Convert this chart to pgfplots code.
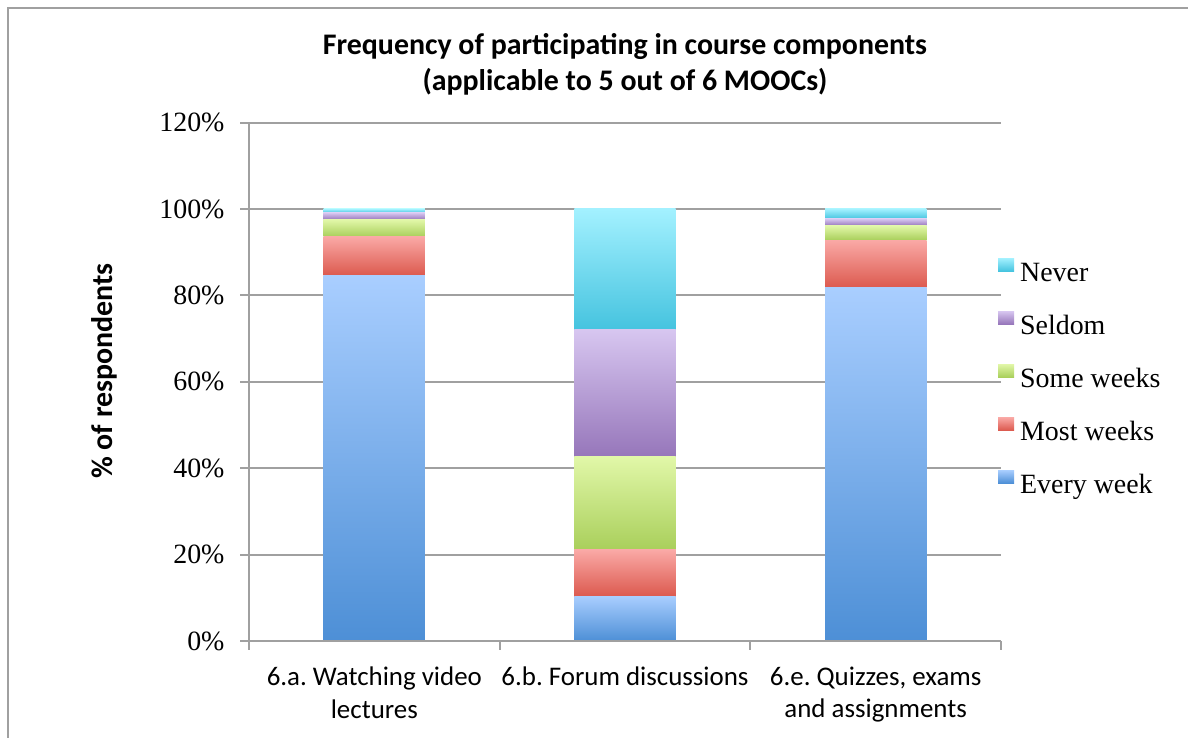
\documentclass[border=0pt]{standalone}
\usepackage{pgfplots}
\pgfplotsset{compat=1.18}
\usepackage{fontspec}
\setmainfont{Liberation Serif}
\newfontfamily\calib{Carlito}
\definecolor{axgray}{HTML}{A0A0A0}
\definecolor{bluet}{HTML}{A9CEFF}\definecolor{blueb}{HTML}{4D8FD6}
\definecolor{redt}{HTML}{FAA9A6}\definecolor{redb}{HTML}{DC5A4F}
\definecolor{greent}{HTML}{E1F7A8}\definecolor{greenb}{HTML}{A9CF5B}
\definecolor{purpt}{HTML}{D7C6F0}\definecolor{purpb}{HTML}{9676BA}
\definecolor{cyant}{HTML}{A3F1FF}\definecolor{cyanb}{HTML}{45C3DF}
\pgfplotsset{
  base/.style={at={(249bp,97bp)}, anchor=south west,
    scale only axis, width=752bp, height=518.4bp,
    xmin=-0.5, xmax=2.5, ymin=0, ymax=120,
    ybar stacked, bar width=0.404},
  severy/.style={draw=none, top color=bluet, bottom color=blueb},
  smost/.style={draw=none, top color=redt, bottom color=redb},
  ssome/.style={draw=none, top color=greent, bottom color=greenb},
  sseldom/.style={draw=none, top color=purpt, bottom color=purpb},
  snever/.style={draw=none, top color=cyant, bottom color=cyanb},
}
\frenchspacing
\begin{document}
\begin{tikzpicture}[x=1bp,y=1bp]
\useasboundingbox (0,0) rectangle (1188,738);
\draw[color=axgray, line width=2bp] (8,-2) -- (8,730) -- (1190,730);
\node[font=\calib\bfseries\fontsize{30}{36}\selectfont, align=center] at (625,674) {Frequency of participating in course components\\(applicable to 5 out of 6 MOOCs)};
\node[rotate=90, font=\calib\bfseries\fontsize{30}{36}\selectfont] at (104,367) {\% of respondents};
% category 0 bars + grid
\begin{axis}[base, axis line style={draw=none}, xtick=\empty,
  ytick={0,20,...,120}, yticklabels={}, major tick length=0pt,
  ymajorgrids, grid style={draw=axgray, line width=2bp}]
\addplot[severy] coordinates {(0,84.7)};
\addplot[smost] coordinates {(0,8.9)};
\addplot[ssome] coordinates {(0,3.9)};
\addplot[sseldom] coordinates {(0,1.6)};
\addplot[snever] coordinates {(0,0.9)};
\end{axis}
% category 1 bars
\begin{axis}[base, hide axis]
\addplot[severy] coordinates {(1,10.4)};
\addplot[smost] coordinates {(1,10.7)};
\addplot[ssome] coordinates {(1,21.5)};
\addplot[sseldom] coordinates {(1,29.4)};
\addplot[snever] coordinates {(1,28.0)};
\end{axis}
% category 2 bars
\begin{axis}[base, hide axis]
\addplot[severy] coordinates {(2,81.8)};
\addplot[smost] coordinates {(2,11.0)};
\addplot[ssome] coordinates {(2,3.3)};
\addplot[sseldom] coordinates {(2,1.6)};
\addplot[snever] coordinates {(2,2.3)};
\end{axis}
% axis lines, ticks, labels, legend
\begin{axis}[base,
  axis x line*=bottom, axis y line*=left,
  axis line style={draw=axgray, line width=2bp, -},
  ytick={0,20,...,120}, yticklabels={0\%,20\%,40\%,60\%,80\%,100\%,120\%},
  xtick={-0.5,0.5,1.5,2.5}, xticklabels={},
  extra x ticks={0,1,2},
  extra x tick labels={{6.a. Watching video\\lectures},{6.b. Forum discussions},{6.e. Quizzes, exams\\and assignments}},
  extra x tick style={major tick length=0pt},
  x tick label style={font=\calib\fontsize{27}{33}\selectfont, align=center, anchor=north, yshift=-22bp},
  tick align=outside, major tick length=9bp,
  tick style={draw=axgray, line width=2bp},
  y tick label style={font=\fontsize{28}{32}\selectfont, xshift=-12bp},
  legend style={at={(0.992,0.507)}, anchor=west, draw=none, fill=none,
    font=\fontsize{28}{32}\selectfont, row sep=25bp, column sep=6bp,
    nodes={inner sep=0pt, text height=17bp, text depth=5bp}},
  legend cell align=left,
  legend image code/.code={\fill[#1] (0bp,4bp) rectangle (16bp,17bp);},
]
\addlegendimage{snever}\addlegendentry{Never}
\addlegendimage{sseldom}\addlegendentry{Seldom}
\addlegendimage{ssome}\addlegendentry{Some weeks}
\addlegendimage{smost}\addlegendentry{Most weeks}
\addlegendimage{severy}\addlegendentry{Every week}
\end{axis}
\end{tikzpicture}
\end{document}
